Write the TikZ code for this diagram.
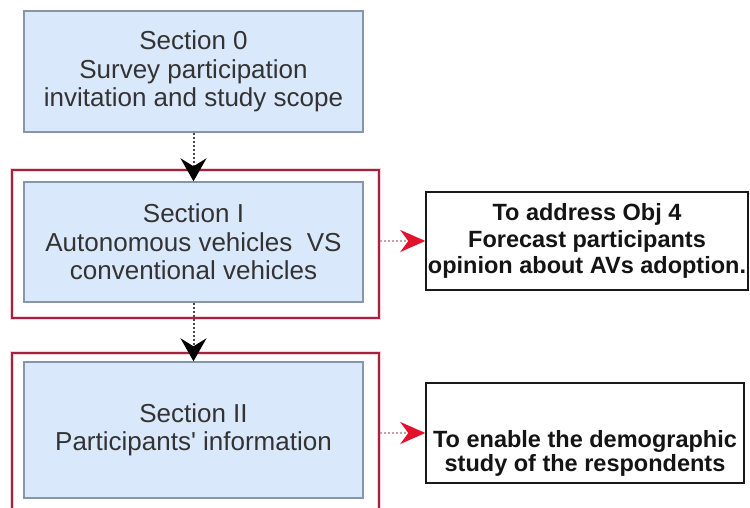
\documentclass[tikz,border=0pt]{standalone}
\usepackage{fontspec}
\setmainfont{Liberation Sans}
\usetikzlibrary{arrows.meta}

\definecolor{secfill}{HTML}{DAE8FC}
\definecolor{secline}{HTML}{8796A8}
\definecolor{framered}{HTML}{A3233F}
\definecolor{framehalo}{HTML}{F6D3DB}
\definecolor{arrowred}{HTML}{E3122B}
\definecolor{linkgray}{HTML}{4A4A4A}
\definecolor{linkpink}{HTML}{C4A4A8}
\definecolor{sectext}{HTML}{333333}

\begin{document}
\begin{tikzpicture}[x=1pt,y=-1pt,
  secbox/.style={draw=secline, fill=secfill, line width=1.4pt, minimum width=339pt,
    inner sep=0pt, text=sectext, align=center, font=\fontsize{26}{28.5}\selectfont},
  framebox/.style={draw=framered, line width=1.2pt,
    preaction={draw=framehalo, line width=4.5pt}, inner sep=0pt, minimum width=367pt},
  objbox/.style={draw=black!90, line width=1.5pt, inner sep=0pt, align=center,
    text=black!92, font=\bfseries\fontsize{23.5}{26.5}\selectfont},
  objtext/.style={align=center, text=black!92, inner sep=0pt,
    font=\bfseries\fontsize{23.5}{24}\selectfont},
  flow/.style={draw=linkgray, line width=2pt, dash pattern=on 2pt off 2pt,
    -{Stealth[length=23pt,width=26pt,inset=8pt,color=black]}},
  aim/.style={draw=linkpink, line width=1.8pt, dash pattern=on 2pt off 2pt,
    -{Stealth[length=25pt,width=22pt,inset=8pt,color=arrowred]}}
]
\clip (0,0) rectangle (750,507);
\fill[white] (0,0) rectangle (750,507);

% red frames around sections I and II
\node[framebox, minimum height=148pt] (frame1) at (195.5,244) {};
\node[framebox, minimum height=177pt] (frame2) at (195.5,441.5) {};

% survey sections
\node[secbox, minimum height=121pt] (sec0) at (193.5,71.5)
  {Section 0\\Survey participation\\invitation and study scope};
\node[secbox, minimum height=120pt] (sec1) at (193.5,242)
  {Section I\\Autonomous vehicles\ \ VS\\conventional vehicles};
\node[secbox, minimum height=136pt] (sec2) at (193.5,430)
  {Section II\\Participants\textquotesingle\ information};

% objectives
\node[objbox, minimum width=322pt, minimum height=98pt] (obj1) at (587,241)
  {To address Obj 4\\Forecast participants\\opinion about AVs adoption.};
\node[objbox, minimum width=318pt, minimum height=100pt] (obj2) at (585,433) {};
\node[objtext] (obj2txt) at ([yshift=-20pt]obj2.center)
  {To enable the demographic\\study of the respondents};

% connectors
\draw[flow] (sec0.south) -- (sec1.north);
\draw[flow] (sec1.south) -- (sec2.north);
\draw[aim] (frame1.east |- obj1.west) -- (obj1.west);
\draw[aim] (frame2.east |- obj2.west) -- (obj2.west);
\end{tikzpicture}
\end{document}
